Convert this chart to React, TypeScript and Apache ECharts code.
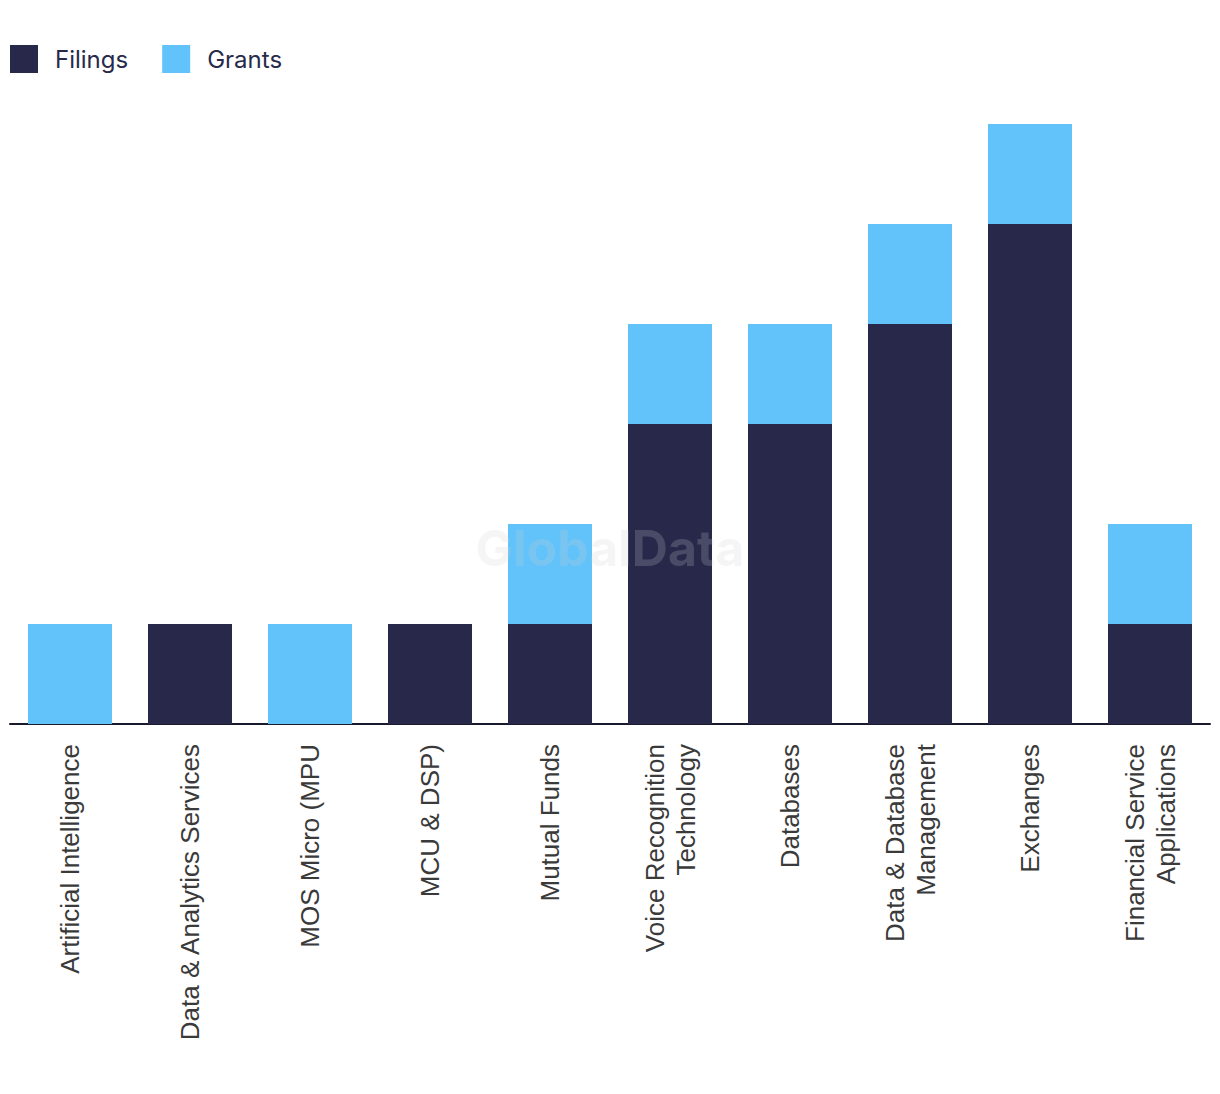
import React, { useEffect, useRef } from "react";
import * as echarts from "echarts";

const categories = [
  "Artificial Intelligence",
  "Data & Analytics Services",
  "MOS Micro (MPU",
  "MCU & DSP)",
  "Mutual Funds",
  "Voice Recognition\nTechnology",
  "Databases",
  "Data & Database\nManagement",
  "Exchanges",
  "Financial Service\nApplications",
];
const filings = [0, 1, 0, 1, 1, 3, 3, 4, 5, 1];
const grants = [1, 0, 1, 0, 1, 1, 1, 1, 1, 1];

export default function App() {
  const ref = useRef<HTMLDivElement>(null);
  useEffect(() => {
    document.body.style.margin = "0";
    const chart = echarts.init(ref.current!, null, { renderer: "svg" });
    chart.setOption({
      animation: false,
      backgroundColor: "#ffffff",
      legend: {
        left: 10,
        top: 45,
        padding: 0,
        itemWidth: 28,
        itemHeight: 28,
        itemGap: 34,
        icon: "rect",
        textStyle: {
          fontFamily: "Inter",
          fontSize: 24,
          color: "#272a4a",
          padding: [0, 0, 9, 12],
        },
        data: ["Filings", "Grants"],
      },
      grid: { left: 10, right: 10, top: 124, bottom: 370, containLabel: false },
      xAxis: {
        type: "category",
        data: categories,
        axisLine: { lineStyle: { color: "#1a1a2e", width: 2 } },
        axisTick: { show: false },
        axisLabel: {
          rotate: 90,
          interval: 0,
          margin: 20,
          fontFamily: "Liberation Sans",
          fontSize: 26,
          lineHeight: 31,
          color: "#3a3a3a",
        },
      },
      yAxis: {
        type: "value",
        min: 0,
        max: 6,
        interval: 1,
        show: false,
        splitLine: { show: false },
      },
      graphic: [
        {
          type: "text",
          x: 610,
          y: 548,
          z: 100,
          style: {
            text: "GlobalData",
            fontFamily: "Inter",
            fontWeight: "bold",
            fontSize: 50,
            fill: "rgba(207,207,207,0.21)",
            textAlign: "center",
            textVerticalAlign: "middle",
          },
        },
      ],
      series: [
        {
          name: "Filings",
          type: "bar",
          stack: "total",
          barWidth: 84,
          data: filings,
          itemStyle: { color: "#27284a" },
        },
        {
          name: "Grants",
          type: "bar",
          stack: "total",
          barWidth: 84,
          data: grants,
          itemStyle: { color: "#62c2fa" },
        },
      ],
    });
    return () => chart.dispose();
  }, []);
  return <div ref={ref} style={{ width: 1220, height: 1094 }} />;
}
